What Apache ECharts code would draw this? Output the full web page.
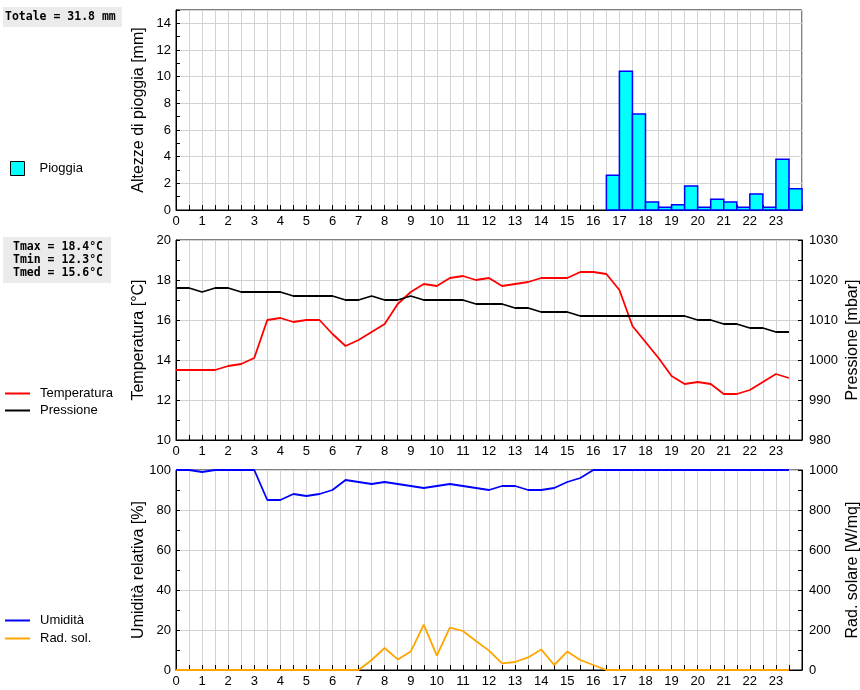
<!DOCTYPE html>
<html><head><meta charset="utf-8">
<script src="https://cdn.jsdelivr.net/npm/echarts@6/dist/echarts.min.js"></script>
<style>html,body{margin:0;padding:0;background:#fff}#c{width:860px;height:690px}</style>
</head><body><div id="c"></div><script>
const hourLabels = ['0','1','2','3','4','5','6','7','8','9','10','11','12','13','14','15','16','17','18','19','20','21','22','23'];
const times = [0,0.5,1,1.5,2,2.5,3,3.5,4,4.5,5,5.5,6,6.5,7,7.5,8,8.5,9,9.5,10,10.5,11,11.5,12,12.5,13,13.5,14,14.5,15,15.5,16,16.5,17,17.5,18,18.5,19,19.5,20,20.5,21,21.5,22,22.5,23,23.5];
const temperature = [13.5,13.5,13.5,13.5,13.7,13.8,14.1,16.0,16.1,15.9,16.0,16.0,15.3,14.7,15.0,15.4,15.8,16.8,17.4,17.8,17.7,18.1,18.2,18.0,18.1,17.7,17.8,17.9,18.1,18.1,18.1,18.4,18.4,18.3,17.5,15.7,14.9,14.1,13.2,12.8,12.9,12.8,12.3,12.3,12.5,12.9,13.3,13.1];
const pressure = [1018,1018,1017,1018,1018,1017,1017,1017,1017,1016,1016,1016,1016,1015,1015,1016,1015,1015,1016,1015,1015,1015,1015,1014,1014,1014,1013,1013,1012,1012,1012,1011,1011,1011,1011,1011,1011,1011,1011,1011,1010,1010,1009,1009,1008,1008,1007,1007];
const humidity = [100,100,99,100,100,100,100,85,85,88,87,88,90,95,94,93,94,93,92,91,92,93,92,91,90,92,92,90,90,91,94,96,100,100,100,100,100,100,100,100,100,100,100,100,100,100,100,100];
const radiation = [0,0,0,0,0,0,0,0,0,0,0,0,0,0,0,50,110,53,92,227,72,212,195,145,97,33,40,63,103,25,92,50,25,0,0,0,0,0,0,0,0,0,0,0,0,0,0,0];
const rainStart = [16.5,17,17.5,18,18.5,19,19.5,20,20.5,21,21.5,22,22.5,23,23.5];
const rain = [2.6,10.4,7.2,0.6,0.2,0.4,1.8,0.2,0.8,0.6,0.2,1.2,0.2,3.8,1.6];
const rainBinHours = 0.5;
const rainSummary = 'Totale = 31.8 mm';
const tempSummary = ['Tmax = 18.4°C', 'Tmin = 12.3°C', 'Tmed = 15.6°C'];

const FONT = '"Liberation Sans", Arial, sans-serif';
const MONO = '"DejaVu Sans Mono", monospace';
const pair = (xs, ys) => xs.map((x, i) => [x, ys[i]]);

function xAxis(gi) {
  return {
    type: 'value', gridIndex: gi, min: 0, max: 24, interval: 1,
    axisLine: { show: true, lineStyle: { color: '#000', width: 1 } },
    axisTick: { show: true, inside: true, length: 5, lineStyle: { color: '#000' } },
    minorTick: { show: true, splitNumber: 2, length: 5, lineStyle: { color: '#000' } },
    splitLine: { show: true, lineStyle: { color: '#d3d3d3', width: 1 } },
    minorSplitLine: { show: true, lineStyle: { color: '#d3d3d3', width: 1 } },
    axisLabel: { showMaxLabel: false, fontSize: 13, color: '#000', fontFamily: FONT, margin: 5,
      formatter: v => hourLabels[v] !== undefined ? hourLabels[v] : '' }
  };
}
function yAxis(gi, opts) {
  const right = opts.position === 'right';
  return Object.assign({
    type: 'value', gridIndex: gi,
    nameLocation: 'middle', nameGap: right ? 43 : 29, nameMoveOverlap: false,
    nameTextStyle: { fontSize: 16, color: '#000', fontFamily: FONT },
    axisLine: { show: true, lineStyle: { color: '#000', width: 1 } },
    axisTick: { show: true, inside: true, length: 4, lineStyle: { color: '#000' } },
    minorTick: { show: true, splitNumber: 2, length: 4, lineStyle: { color: '#000' } },
    splitLine: { show: !right, lineStyle: { color: '#d3d3d3', width: 1 } },
    axisLabel: { fontSize: 13, color: '#000', fontFamily: FONT, margin: right ? 7 : 5,
      showMaxLabel: opts.showMax !== false, formatter: v => String(v) }
  }, opts);
}

const gridBase = { left: 176, right: 58, height: 200, show: true, borderColor: '#000', borderWidth: 1,
  backgroundColor: 'transparent', containLabel: false, outerBoundsMode: 'none' };

function legendAt(name, top, icon, w, h, pad) {
  return { data: [name], left: icon === 'sq' ? 10 : 5, top: top, padding: 0, icon: 'rect',
    itemWidth: w, itemHeight: h, selectedMode: false,
    textStyle: { fontSize: 13, color: '#000', fontFamily: FONT, padding: [0, 0, 0, pad] } };
}

const option = {
  animation: false,
  backgroundColor: '#fff',
  grid: [
    Object.assign({ top: 10 }, gridBase),
    Object.assign({ top: 240 }, gridBase),
    Object.assign({ top: 470 }, gridBase)
  ],
  xAxis: [xAxis(0), xAxis(1), xAxis(2)],
  yAxis: [
    yAxis(0, { position: 'left', name: 'Altezze di pioggia [mm]', min: 0, max: 15, interval: 2, showMax: false }),
    yAxis(1, { position: 'left', name: 'Temperatura [°C]', min: 10, max: 20, interval: 2 }),
    yAxis(1, { position: 'right', name: 'Pressione [mbar]', min: 980, max: 1030, interval: 10 }),
    yAxis(2, { position: 'left', name: 'Umidità relativa [%]', min: 0, max: 100, interval: 20 }),
    yAxis(2, { position: 'right', name: 'Rad. solare [W/mq]', min: 0, max: 1000, interval: 200 })
  ],
  legend: [
    Object.assign(legendAt('Pioggia', 161, 'sq', 14, 14, 10), { itemStyle: { borderColor: '#000', borderWidth: 1 } }),
    legendAt('Temperatura', 387, 'line', 25, 2, 5),
    legendAt('Pressione', 404, 'line', 25, 2, 5),
    legendAt('Umidità', 614, 'line', 25, 2, 5),
    legendAt('Rad. sol.', 632, 'line', 25, 2, 5)
  ],
  graphic: [
    { type: 'rect', left: 3, top: 7, shape: { width: 119, height: 20 }, style: { fill: '#ebebeb' }, silent: true },
    { type: 'text', left: 5, top: 11, style: { text: rainSummary, fill: '#000', font: 'bold 11.5px ' + MONO } },
    { type: 'rect', left: 3, top: 237, shape: { width: 108, height: 46 }, style: { fill: '#ebebeb' }, silent: true },
    { type: 'text', left: 13, top: 241, style: { text: tempSummary.join('\n'), fill: '#000', lineHeight: 13, font: 'bold 11.5px ' + MONO } }
  ],
  series: [
    {
      name: 'Pioggia', type: 'custom', xAxisIndex: 0, yAxisIndex: 0,
      itemStyle: { color: '#00ffff', borderColor: '#0000ff', borderWidth: 1.5 },
      data: pair(rainStart, rain),
      renderItem: (params, api) => {
        const x0 = api.value(0), v = api.value(1);
        const p0 = api.coord([x0, v]);
        const p1 = api.coord([x0 + rainBinHours, 0]);
        return { type: 'rect', shape: { x: p0[0], y: p0[1], width: p1[0] - p0[0], height: p1[1] - p0[1] },
          style: { fill: '#00ffff', stroke: '#0000ff', lineWidth: 1.5 } };
      }
    },
    { name: 'Temperatura', type: 'line', xAxisIndex: 1, yAxisIndex: 1, data: pair(times, temperature),
      showSymbol: false, symbol: 'none', clip: false, color: '#ff0000', lineStyle: { color: '#ff0000', width: 1.8 } },
    { name: 'Pressione', type: 'line', xAxisIndex: 1, yAxisIndex: 2, data: pair(times, pressure),
      showSymbol: false, symbol: 'none', clip: false, color: '#000000', lineStyle: { color: '#000000', width: 1.8 } },
    { name: 'Umidità', type: 'line', xAxisIndex: 2, yAxisIndex: 3, data: pair(times, humidity),
      showSymbol: false, symbol: 'none', clip: false, color: '#0000ff', lineStyle: { color: '#0000ff', width: 1.8 } },
    { name: 'Rad. sol.', type: 'line', xAxisIndex: 2, yAxisIndex: 4, data: pair(times, radiation),
      showSymbol: false, symbol: 'none', clip: false, color: '#ffa500', lineStyle: { color: '#ffa500', width: 1.8 } }
  ]
};
const chart = echarts.init(document.getElementById('c'), null, { renderer: 'canvas' });
chart.setOption(option);
</script></body></html>
